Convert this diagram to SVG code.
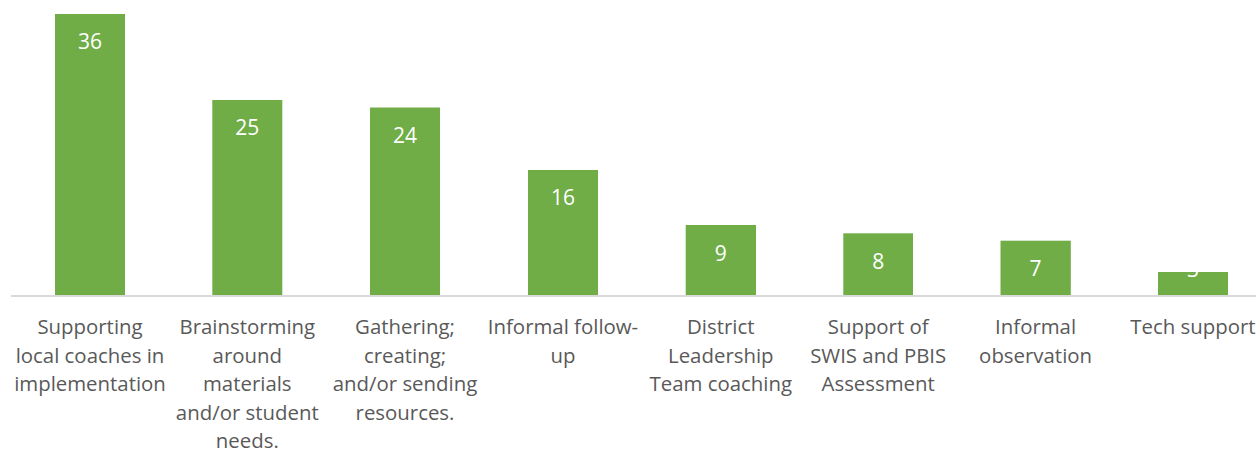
<svg xmlns="http://www.w3.org/2000/svg" width="1256" height="451" viewBox="0 0 1256 451">
<style>
.bar{fill:#70AD47}
.val{font-family:"Open Sans","Liberation Sans",sans-serif;font-size:21px;fill:#FFFFFF;text-anchor:middle}
.cat{font-family:"Open Sans","Liberation Sans",sans-serif;font-size:20.4px;fill:#595959;text-anchor:middle}
</style>
<rect width="1256" height="451" fill="#FFFFFF"/>
<g id="connectors">
<line x1="11" y1="296" x2="1256" y2="296" stroke="#D9D9D9" stroke-width="2"/>
</g>
<g id="bar1">
<rect class="bar" x="55" y="14" width="70" height="281"/>
<text class="val" x="90" y="49">36</text>
<text class="cat" x="90" y="334">Supporting</text>
<text class="cat" x="90" y="362.5">local coaches in</text>
<text class="cat" x="90" y="391">implementation</text>
</g>
<g id="bar2">
<rect class="bar" x="212.3" y="100" width="70" height="195"/>
<text class="val" x="247.3" y="135">25</text>
<text class="cat" x="247.3" y="334">Brainstorming</text>
<text class="cat" x="247.3" y="362.5">around</text>
<text class="cat" x="247.3" y="391">materials</text>
<text class="cat" x="247.3" y="419.5">and/or student</text>
<text class="cat" x="247.3" y="448">needs.</text>
</g>
<g id="bar3">
<rect class="bar" x="370" y="107.5" width="70" height="187.5"/>
<text class="val" x="405" y="142.5">24</text>
<text class="cat" x="405" y="334">Gathering;</text>
<text class="cat" x="405" y="362.5">creating;</text>
<text class="cat" x="405" y="391">and/or sending</text>
<text class="cat" x="405" y="419.5">resources.</text>
</g>
<g id="bar4">
<rect class="bar" x="528" y="170" width="70" height="125"/>
<text class="val" x="563" y="205">16</text>
<text class="cat" x="563" y="334">Informal follow-</text>
<text class="cat" x="563" y="362.5">up</text>
</g>
<g id="bar5">
<rect class="bar" x="685.7" y="225" width="70.3" height="70"/>
<text class="val" x="720.8" y="260.5">9</text>
<text class="cat" x="720.8" y="334">District</text>
<text class="cat" x="720.8" y="362.5">Leadership</text>
<text class="cat" x="720.8" y="391">Team coaching</text>
</g>
<g id="bar6">
<rect class="bar" x="843.3" y="233.3" width="69.7" height="61.7"/>
<text class="val" x="878.2" y="268.5">8</text>
<text class="cat" x="878.2" y="334">Support of</text>
<text class="cat" x="878.2" y="362.5">SWIS and PBIS</text>
<text class="cat" x="878.2" y="391">Assessment</text>
</g>
<g id="bar7">
<rect class="bar" x="1000.5" y="240.7" width="70.3" height="54.3"/>
<text class="val" x="1035.6" y="276">7</text>
<text class="cat" x="1035.6" y="334">Informal</text>
<text class="cat" x="1035.6" y="362.5">observation</text>
</g>
<g id="bar8">
<rect class="bar" x="1158" y="272" width="70" height="23"/>
<text class="val" x="1193" y="277">3</text>
<text class="cat" x="1193" y="334">Tech support</text>
</g>
</svg>
